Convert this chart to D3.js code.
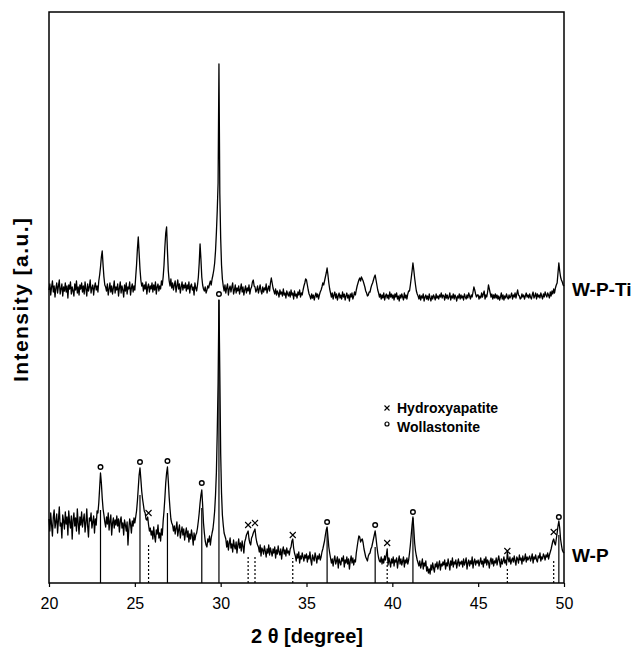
<!DOCTYPE html>
<html>
  <head>
    <style>
      body,
      html {
        margin: 0;
        padding: 0;
        background: #fff;
        font-family: "Liberation Sans", Arial, sans-serif;
        overflow: hidden;
      }
    </style>
    <script src="https://d3js.org/d3.v7.min.js"></script>
    <title>XRD W-P / W-P-Ti</title>
  </head>

  <body>
    <svg id="xrd" width="636" height="648"></svg>

    <script>
      // 2theta grid: 20.00 .. 50.00, step 0.05 (601 points, one row per degree)
      var thetaStart = 20;
      var thetaStep = 0.05;

      // W-P (lower pattern), intensity a.u.
      var wpValues = [
        64,52,70,58,47,66,73,55,61,69,50,63,76,57,60,45,68,62,54,71,
        59,66,48,72,61,55,67,44,63,70,57,65,52,74,60,49,66,58,71,56,
        63,69,51,60,74,57,46,65,62,70,55,61,67,50,64,58,72,70,80,95,
        110,100,85,74,68,61,56,66,59,70,53,62,68,48,60,65,55,63,58,67,
        57,64,51,62,66,55,60,48,63,58,52,61,38,54,64,59,50,62,57,65,
        60,66,72,82,95,108,115,104,92,84,78,72,70,64,63,66,58,52,55,48,
        52,44,56,47,41,53,49,58,45,50,42,54,48,62,72,85,100,110,116,102,
        86,74,64,60,58,52,57,49,55,61,47,53,58,45,51,56,48,54,43,50,
        55,46,52,41,49,44,53,47,38,50,43,48,50,55,62,70,80,88,93,78,
        60,50,42,38,36,44,41,47,38,45,50,54,62,72,88,110,150,200,283,210,
        130,90,68,58,50,47,44,36,42,33,40,45,35,39,31,43,37,34,41,30,
        38,44,35,40,32,42,37,30,41,44,48,50,52,44,40,38,45,47,50,52,
        54,46,41,38,36,31,38,27,35,33,29,37,32,26,34,30,38,28,35,31,
        27,34,30,36,25,33,29,37,31,28,34,24,32,36,29,33,27,35,30,32,
        28,34,36,42,44,35,30,27,22,29,25,31,20,27,24,30,26,22,28,25,
        29,21,27,24,31,23,18,28,25,22,30,26,20,27,24,29,23,26,31,34,
        38,42,48,53,56,46,36,30,25,20,24,17,23,27,19,22,26,15,24,21,
        18,25,22,27,16,23,20,26,19,24,14,22,27,20,25,18,23,21,30,36,
        42,47,46,41,43,44,40,34,30,26,24,22,27,29,30,34,36,40,44,48,
        52,45,37,30,25,22,21,26,19,24,20,27,23,28,34,18,25,21,16,24,
        20,26,17,23,21,25,15,22,27,19,24,18,22,26,16,23,20,25,19,23,
        30,38,48,58,66,54,40,32,27,23,20,17,22,15,19,24,14,20,17,22,
        12,16,10,14,9,18,13,20,15,11,19,16,21,14,18,22,13,19,17,21,
        18,23,14,20,17,24,19,13,22,18,25,16,21,19,23,15,20,24,17,21,
        19,22,16,24,18,21,25,14,20,23,17,22,19,26,15,21,24,18,22,20,
        23,17,21,25,19,22,16,24,20,26,18,23,21,15,22,25,19,24,17,22,
        20,25,18,23,27,21,16,24,19,22,26,20,23,18,31,24,21,26,19,23,
        25,21,27,22,18,26,24,20,28,23,25,19,27,22,24,29,21,26,23,25,
        27,22,25,29,20,26,24,28,23,21,27,25,30,22,26,24,29,27,23,28,
        26,30,24,28,31,34,38,42,44,40,38,44,50,57,62,55,44,38,33,31,
        30
      ];

      // W-P-Ti (upper pattern), intensity a.u.
      var wptiValues = [
        293,299,288,296,302,291,297,286,295,300,290,297,303,289,294,299,287,296,292,300,
        291,297,285,298,294,301,289,296,292,287,299,293,302,290,296,288,298,294,300,291,
        297,289,301,294,287,299,292,296,303,290,295,298,288,296,300,293,297,291,302,308,
        316,326,332,318,306,298,296,292,299,288,294,300,291,297,289,295,302,290,296,293,
        299,287,295,301,290,297,293,286,298,292,300,289,296,294,301,288,295,299,291,297,
        293,306,318,334,346,330,314,303,297,300,292,298,294,301,289,296,299,291,297,294,
        300,291,298,293,301,289,296,299,292,297,294,302,298,306,318,336,350,356,332,312,
        302,297,304,295,300,293,298,302,291,297,303,294,299,290,296,301,293,298,295,300,
        292,298,294,301,290,297,299,293,296,288,300,295,292,298,306,320,339,324,306,298,
        294,292,296,290,293,297,295,299,302,298,304,308,313,320,332,350,372,400,519,390,
        345,318,304,297,292,298,290,295,299,288,294,297,291,296,300,289,293,298,290,295,
        292,297,289,294,299,291,296,288,293,297,290,295,292,298,289,294,296,301,303,297,
        296,291,293,297,290,294,298,292,289,296,291,295,293,299,290,294,297,292,300,305,
        300,295,292,289,294,288,292,290,286,293,289,291,287,294,288,290,285,292,289,287,
        291,286,293,288,290,284,292,287,289,285,291,288,293,286,290,288,293,297,300,304,
        303,298,293,289,287,284,289,285,288,283,287,290,286,289,284,288,291,293,296,300,
        298,302,306,310,315,308,300,294,290,286,290,284,288,291,285,289,283,287,290,285,
        288,284,291,286,289,283,287,290,285,288,282,289,286,290,284,287,291,288,293,297,
        300,303,305,302,306,304,302,299,296,292,290,287,288,291,291,295,298,300,303,306,
        308,303,298,293,290,286,289,284,288,285,290,283,287,289,285,288,284,291,286,289,
        285,288,283,289,286,290,284,287,282,288,285,289,286,283,290,285,288,284,289,292,
        292,298,305,312,320,313,305,298,292,289,287,284,288,283,287,285,289,282,286,288,
        284,287,283,289,285,282,287,284,288,286,283,289,285,287,284,288,286,290,285,288,
        287,283,289,285,288,284,286,290,283,287,285,289,284,288,286,282,287,285,289,284,
        288,285,287,283,289,286,284,288,285,290,287,284,288,286,291,296,293,289,286,288,
        288,284,287,285,290,286,289,292,284,288,286,291,298,294,290,286,289,284,288,285,
        289,285,288,284,287,283,286,290,284,288,283,287,285,289,286,284,288,285,287,290,
        284,288,286,290,285,289,293,288,287,284,285,289,286,288,284,287,290,286,288,285,
        289,286,284,288,291,285,287,290,284,289,286,288,285,290,287,284,289,286,291,288,
        286,290,288,285,291,287,292,289,294,290,295,298,300,310,320,312,306,303,301,298,
        297
      ];

      // phase markers on W-P: position, symbol height, top of the drop line
      var wollPos = [23.0, 25.3, 26.9, 28.9, 29.9, 36.2, 39.0, 41.2, 49.7];
      var wollMark = [116, 121, 122, 100, 289, 61, 58, 71, 66];
      var wollLine = [73, 88, 70, 75, 283, 53, 36, 65, 48];

      var hapPos = [25.8, 31.6, 32.0, 34.2, 39.7, 46.7, 49.4];
      var hapMark = [70, 58, 60, 48, 40, 32, 51];
      var hapLine = [40, 28, 28, 25, 21, 15, 23];

      var xTicks = [20, 25, 30, 35, 40, 45, 50];
      var seriesNames = ["W-P-Ti", "W-P"];
      var legendNames = ["Hydroxyapatite", "Wollastonite"];

      var svg = d3.select("#xrd");
      var plotL = 49,
        plotR = 564,
        plotT = 12,
        plotB = 583;

      var x = d3.scaleLinear().domain([20, 50]).range([plotL, plotR]);
      var y = d3.scaleLinear().domain([0, 571]).range([plotB, plotT]);

      function toPoints(vals) {
        return vals.map(function (v, i) {
          return [thetaStart + i * thetaStep, v];
        });
      }

      var line = d3
        .line()
        .x(function (d) {
          return x(d[0]);
        })
        .y(function (d) {
          return y(d[1]);
        });

      // drop lines first so the patterns sit on top
      var drops = svg.append("g");
      drops
        .selectAll(".woll-line")
        .data(wollPos)
        .enter()
        .append("line")
        .attr("x1", function (d) {
          return x(d);
        })
        .attr("x2", function (d) {
          return x(d);
        })
        .attr("y1", y(0))
        .attr("y2", function (d, i) {
          return y(wollLine[i]);
        })
        .attr("stroke", "#000")
        .attr("stroke-width", 1.2);

      drops
        .selectAll(".hap-line")
        .data(hapPos)
        .enter()
        .append("line")
        .attr("x1", function (d) {
          return x(d);
        })
        .attr("x2", function (d) {
          return x(d);
        })
        .attr("y1", y(0))
        .attr("y2", function (d, i) {
          return y(hapLine[i]);
        })
        .attr("stroke", "#000")
        .attr("stroke-width", 1.2)
        .attr("stroke-dasharray", "2,2");

      [wptiValues, wpValues].forEach(function (vals) {
        svg
          .append("path")
          .datum(toPoints(vals))
          .attr("d", line)
          .attr("fill", "none")
          .attr("stroke", "#000")
          .attr("stroke-width", 1.3)
          .attr("stroke-linejoin", "round");
      });

      // markers
      svg
        .selectAll(".woll")
        .data(wollPos)
        .enter()
        .append("circle")
        .attr("cx", function (d) {
          return x(d);
        })
        .attr("cy", function (d, i) {
          return y(wollMark[i]);
        })
        .attr("r", 2.3)
        .attr("fill", "#fff")
        .attr("stroke", "#000")
        .attr("stroke-width", 1.4);

      function cross(g, cx, cy, s) {
        g.append("path")
          .attr(
            "d",
            "M" + (cx - s) + "," + (cy - s) + "L" + (cx + s) + "," + (cy + s) +
              "M" + (cx - s) + "," + (cy + s) + "L" + (cx + s) + "," + (cy - s)
          )
          .attr("stroke", "#000")
          .attr("stroke-width", 1.1)
          .attr("fill", "none");
      }

      var hapG = svg.append("g");
      hapPos.forEach(function (d, i) {
        cross(hapG, x(d), y(hapMark[i]), 3);
      });

      // frame
      svg
        .append("rect")
        .attr("x", plotL)
        .attr("y", plotT)
        .attr("width", plotR - plotL)
        .attr("height", plotB - plotT)
        .attr("fill", "none")
        .attr("stroke", "#000")
        .attr("stroke-width", 1.5);

      var xAxis = svg
        .append("g")
        .attr("transform", "translate(0," + plotB + ")")
        .call(d3.axisBottom(x).tickValues(xTicks).tickSize(4).tickPadding(11));
      xAxis.select(".domain").remove();
      xAxis.selectAll("line").attr("stroke", "#000").attr("stroke-width", 1.2);
      xAxis
        .selectAll("text")
        .attr("fill", "#000")
        .style("font-family", "'Liberation Sans', Arial, sans-serif")
        .style("font-size", "16px");

      // titles
      svg
        .append("text")
        .attr("x", 307)
        .attr("y", 643)
        .attr("text-anchor", "middle")
        .style("font-size", "20px")
        .style("font-weight", "bold")
        .text("2 θ [degree]");

      svg
        .append("text")
        .attr("transform", "translate(28,300) rotate(-90)")
        .attr("text-anchor", "middle")
        .attr("textLength", 164)
        .attr("lengthAdjust", "spacing")
        .style("font-size", "21px")
        .style("font-weight", "bold")
        .text("Intensity [a.u.]");

      // series labels
      var labelY = [296, 562];
      seriesNames.forEach(function (n, i) {
        svg
          .append("text")
          .attr("x", 572)
          .attr("y", labelY[i])
          .style("font-size", "19px")
          .style("font-weight", "bold")
          .text(n);
      });

      // legend
      var leg = svg.append("g");
      cross(leg, 387, 408, 2.5);
      leg
        .append("circle")
        .attr("cx", 387)
        .attr("cy", 424)
        .attr("r", 2)
        .attr("fill", "#fff")
        .attr("stroke", "#000")
        .attr("stroke-width", 1.2);
      legendNames.forEach(function (n, i) {
        leg
          .append("text")
          .attr("x", 397)
          .attr("y", 413 + i * 19)
          .style("font-size", "14px")
          .style("font-weight", "bold")
          .text(n);
      });
    </script>
  </body>
</html>
